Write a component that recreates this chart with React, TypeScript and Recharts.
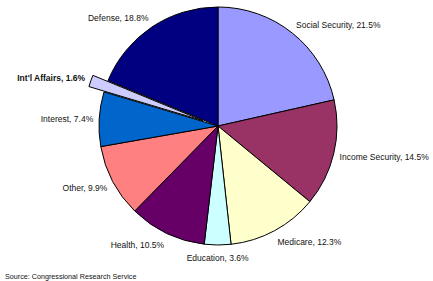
import React from 'react';
import { PieChart, Pie, Cell } from 'recharts';

const categories = [
  'Social Security', 'Income Security', 'Medicare', 'Education', 'Health',
  'Other', 'Interest', "Int'l Affairs", 'Defense',
];
const shares = [21.5, 14.5, 12.3, 3.6, 10.5, 9.9, 7.4, 1.6, 18.8];
const colors = [
  '#9999FF', '#993366', '#FFFFCC', '#CCFFFF', '#660066',
  '#FF8080', '#0066CC', '#CCCCFF', '#000080',
];
const explodedIndex = 7;
const sourceNote = 'Source: Congressional Research Service';

const data = categories.map((name, i) => ({ name, value: shares[i] }));

const RAD = Math.PI / 180;
const CX = 218;
const CY = 126;
const R = 119;
const EXPLODE = 16;

// label placed just outside the slice, anchored by side like Excel does
function makeLabel(only: (i: number) => boolean) {
  return (p: any) => {
    if (!only(p.index)) return null;
    const a = -p.midAngle * RAD;
    const r = p.outerRadius + 6;
    const x = p.cx + r * Math.cos(a);
    const y = p.cy + r * Math.sin(a);
    const sx = Math.cos(a);
    const sy = Math.sin(a);
    const anchor = sx > 0.3 ? 'start' : sx < -0.3 ? 'end' : 'middle';
    return (
      <text
        x={x}
        y={y + sy * 6 + 4}
        textAnchor={anchor}
        fontSize={8.5}
        fontFamily="'Liberation Sans', Arial, sans-serif"
        fontWeight={p.index === explodedIndex ? 'bold' : 'normal'}
        fill="#111"
      >
        {`${p.name}, ${p.value.toFixed(1)}%`}
      </text>
    );
  };
}

export default function App() {
  // offset direction for the pulled-out slice
  const before = shares.slice(0, explodedIndex).reduce((s, v) => s + v, 0);
  const total = shares.reduce((s, v) => s + v, 0);
  const mid = 90 - ((before + shares[explodedIndex] / 2) / total) * 360;
  const ex = CX + EXPLODE * Math.cos(-mid * RAD);
  const ey = CY + EXPLODE * Math.sin(-mid * RAD);

  return (
    <div style={{ position: 'absolute', left: 0, top: 0, width: 433, height: 281, background: '#fff' }}>
      <PieChart width={433} height={281} margin={{ top: 0, right: 0, bottom: 0, left: 0 }}>
        <Pie
          data={data}
          dataKey="value"
          cx={CX}
          cy={CY}
          outerRadius={R}
          startAngle={90}
          endAngle={-270}
          stroke="#000"
          strokeWidth={1}
          labelLine={false}
          label={makeLabel((i) => i !== explodedIndex)}
          isAnimationActive={false}
        >
          {data.map((d, i) => (
            <Cell
              key={d.name}
              fill={i === explodedIndex ? 'none' : colors[i]}
              stroke={i === explodedIndex ? 'none' : '#000'}
            />
          ))}
        </Pie>
        <Pie
          data={data}
          dataKey="value"
          cx={ex}
          cy={ey}
          outerRadius={R}
          startAngle={90}
          endAngle={-270}
          labelLine={false}
          label={makeLabel((i) => i === explodedIndex)}
          isAnimationActive={false}
        >
          {data.map((d, i) => (
            <Cell
              key={d.name}
              fill={i === explodedIndex ? colors[i] : 'none'}
              stroke={i === explodedIndex ? '#000' : 'none'}
            />
          ))}
        </Pie>
      </PieChart>
      <div
        style={{
          position: 'absolute',
          left: 5,
          top: 272,
          fontSize: 7.2,
          fontFamily: "'Liberation Sans', Arial, sans-serif",
          color: '#111',
          whiteSpace: 'nowrap',
        }}
      >
        {sourceNote}
      </div>
    </div>
  );
}
